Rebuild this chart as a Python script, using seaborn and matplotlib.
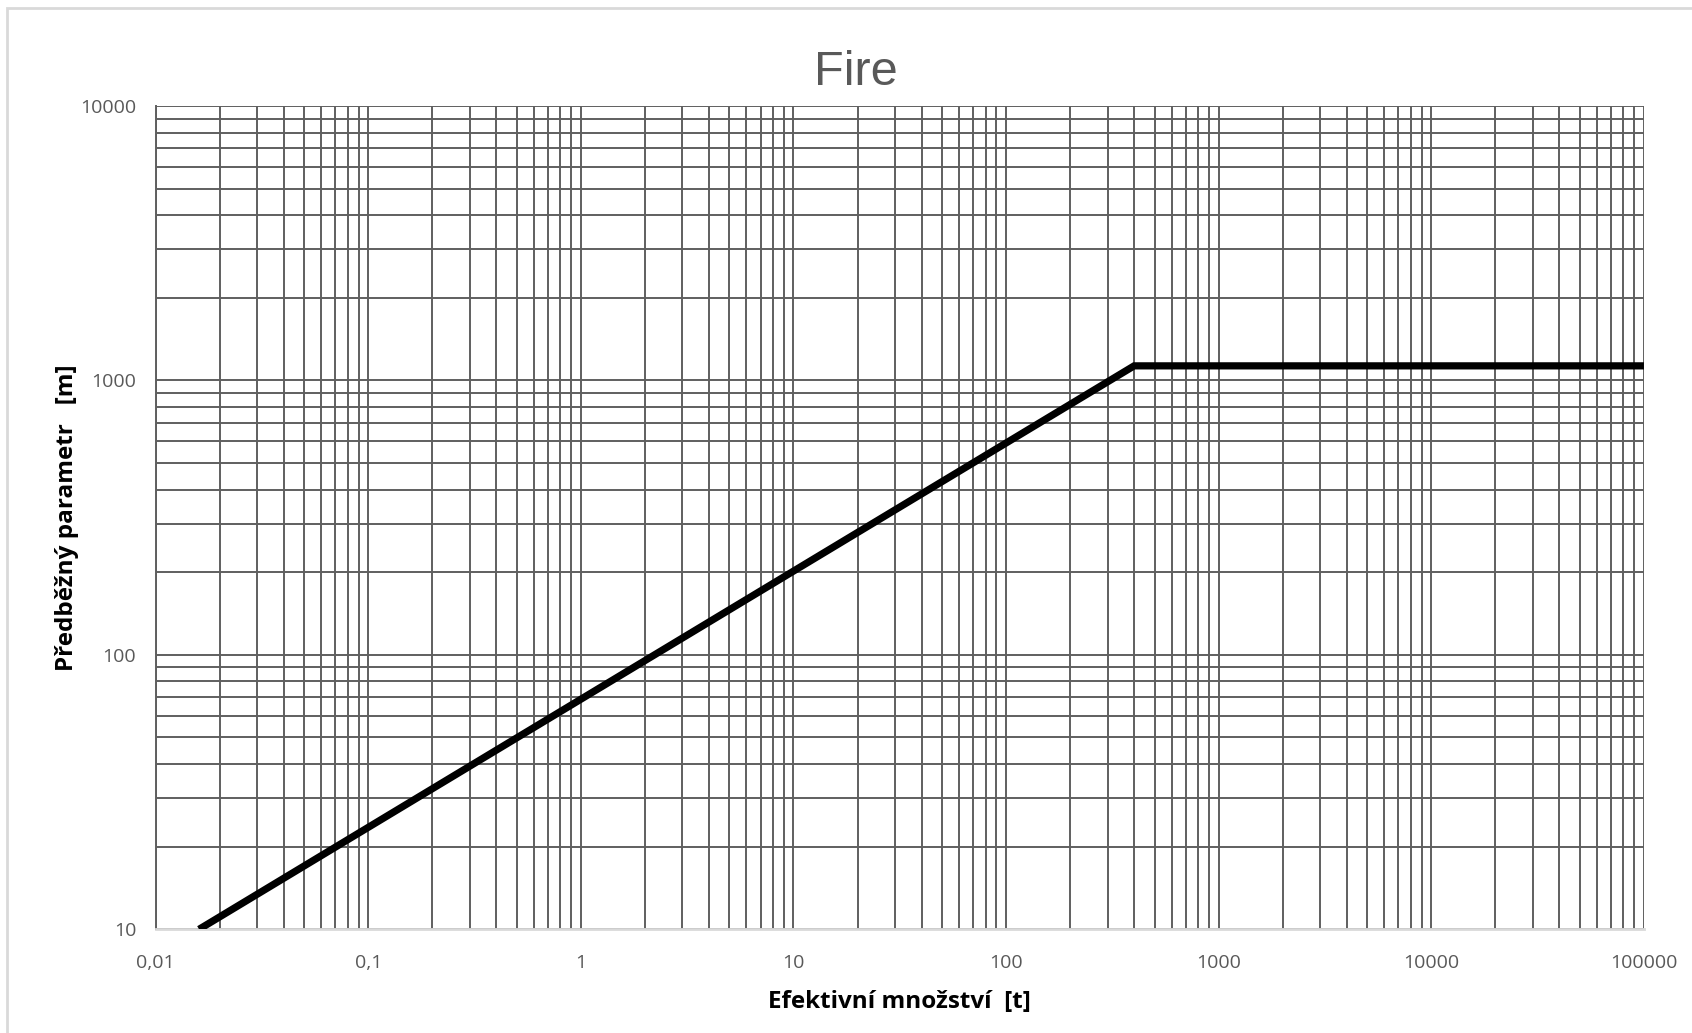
import matplotlib
matplotlib.use('Agg')
import matplotlib.pyplot as plt
import matplotlib.ticker as mticker
import seaborn as sns
import pandas as pd

# Data
mnozstvi = [0.016, 400, 100000]
parametr = [10, 1130, 1130]
x_ticks = [0.01, 0.1, 1, 10, 100, 1000, 10000, 100000]
y_ticks = [10, 100, 1000, 10000]

df = pd.DataFrame({'x': mnozstvi, 'y': parametr})

sns.set_style('white')
plt.rcParams['font.family'] = ['Open Sans', 'DejaVu Sans']

grid_col = '#5f5f5f'
text_col = '#595959'

fig = plt.figure(figsize=(16.92, 10.33), dpi=100)
ax = fig.add_axes([0.092, 0.1004, 0.8796, 0.797])

ax.set_xscale('log')
ax.set_yscale('log')
ax.set_xlim(0.01, 100000)
ax.set_ylim(10, 10000)

# mrizka - hlavni i vedlejsi
ax.xaxis.set_major_locator(mticker.FixedLocator(x_ticks))
ax.yaxis.set_major_locator(mticker.FixedLocator(y_ticks))
ax.xaxis.set_minor_locator(mticker.LogLocator(base=10, subs=range(2, 10), numticks=50))
ax.yaxis.set_minor_locator(mticker.LogLocator(base=10, subs=range(2, 10), numticks=50))
ax.grid(True, which='both', color=grid_col, linewidth=1.4)
ax.set_axisbelow(True)

sns.lineplot(data=df, x='x', y='y', ax=ax, color='black', linewidth=5.2,
             solid_capstyle='butt', solid_joinstyle='miter', zorder=5)

def fmt(v, pos):
    s = ('%g' % v) if v < 1 else str(int(v))
    return s.replace('.', ',')

ax.xaxis.set_major_formatter(mticker.FuncFormatter(fmt))
ax.yaxis.set_major_formatter(mticker.FuncFormatter(lambda v, p: str(int(v))))
ax.xaxis.set_minor_formatter(mticker.NullFormatter())
ax.yaxis.set_minor_formatter(mticker.NullFormatter())
ax.tick_params(which='both', length=0, labelsize=14, labelcolor=text_col)
ax.tick_params(axis='x', pad=18)
ax.tick_params(axis='y', pad=14)

for s in ['top', 'right']:
    ax.spines[s].set_visible(False)
ax.spines['left'].set_color(grid_col)
ax.spines['left'].set_linewidth(1.4)
ax.spines['bottom'].set_color('#d9d9d9')
ax.spines['bottom'].set_linewidth(2)

ax.set_xlabel('Efektivní množství  [t]', fontsize=17.5, fontweight='bold', color='black', labelpad=13)
ax.set_ylabel('Předběžný parametr   [m]', fontsize=17.5, fontweight='bold', color='black', labelpad=1)

fig.suptitle('Fire', x=0.506, y=0.952, fontsize=35, color=text_col, family='Liberation Sans')

# ramecek grafu
fig.add_artist(plt.Rectangle((7 / 1692, -0.05), 1.2, 1 - 8 / 1033 + 0.05, transform=fig.transFigure,
                             fill=False, edgecolor='#d9d9d9', linewidth=2))

fig.savefig('out.png', dpi=100)
